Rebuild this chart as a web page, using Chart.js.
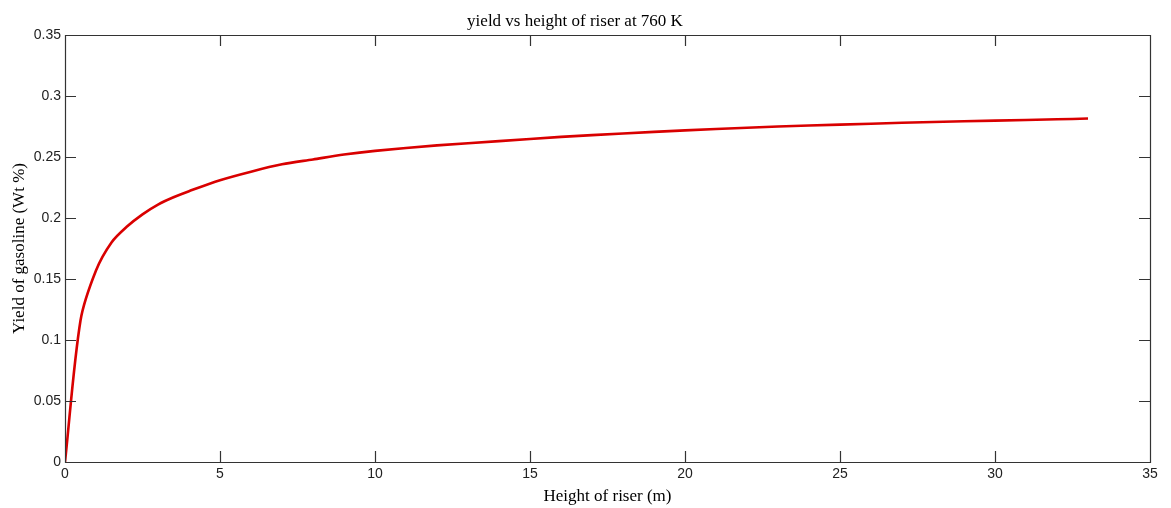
<!DOCTYPE html>
<html>
<head>
<meta charset="utf-8">
<script src="https://cdn.jsdelivr.net/npm/chart.js@4/dist/chart.umd.min.js"></script>
<style>
  html, body { margin: 0; padding: 0; background: #fff; }
  canvas { display: block; }
</style>
</head>
<body>
<canvas id="riserChart" width="1171" height="508"></canvas>
<script>
// riser height (m) and gasoline yield
const heights = [0, 0.5, 1, 1.5, 2, 2.5, 3, 3.5, 4, 5, 6, 7, 8, 9, 10, 12, 14, 16, 18, 20, 22, 24, 26, 28, 30, 32, 33];
const yields = [0, 0.116, 0.157, 0.180, 0.193, 0.203, 0.211, 0.217, 0.222, 0.231, 0.238, 0.244, 0.248, 0.252, 0.255,
  0.2595, 0.263, 0.2665, 0.2693, 0.2718, 0.274, 0.2758, 0.2773, 0.2787, 0.2798, 0.2809, 0.2815];
const xTicks = [0, 5, 10, 15, 20, 25, 30, 35];
const yTicks = [0, 0.05, 0.1, 0.15, 0.2, 0.25, 0.3, 0.35];

const serif = "'Liberation Serif', 'Times New Roman', serif";
const sans = "'Liberation Sans', Arial, sans-serif";

// matlab style box with inward ticks on all four sides
const boxTicks = {
  id: "boxTicks",
  afterDraw(chart) {
    const { ctx, chartArea: a, scales } = chart;
    const len = 11;
    ctx.save();
    ctx.strokeStyle = "#333";
    ctx.lineWidth = 1.2;
    ctx.beginPath();
    ctx.rect(a.left + 0.5, a.top + 0.5, a.right - a.left, a.bottom - a.top);
    xTicks.forEach(v => {
      const x = Math.round(scales.x.getPixelForValue(v)) + 0.5;
      ctx.moveTo(x, a.bottom); ctx.lineTo(x, a.bottom - len);
      ctx.moveTo(x, a.top); ctx.lineTo(x, a.top + len);
    });
    yTicks.forEach(v => {
      const y = Math.round(scales.y.getPixelForValue(v)) + 0.5;
      ctx.moveTo(a.left, y); ctx.lineTo(a.left + len, y);
      ctx.moveTo(a.right, y); ctx.lineTo(a.right - len, y);
    });
    ctx.stroke();
    ctx.restore();
  }
};

new Chart(document.getElementById("riserChart").getContext("2d"), {
  type: "line",
  data: {
    datasets: [{
      data: heights.map((h, i) => ({ x: h, y: yields[i] })),
      borderColor: "#d90000",
      borderWidth: 2.6,
      pointRadius: 0,
      tension: 0.3,
      fill: false
    }]
  },
  options: {
    responsive: false,
    animation: false,
    layout: { padding: { left: 0, right: 21, top: 0, bottom: 0 } },
    plugins: {
      legend: { display: false },
      tooltip: { enabled: false },
      title: {
        display: true,
        text: "yield vs height of riser at 760 K",
        color: "#000",
        font: { family: serif, size: 17, weight: "normal" },
        padding: { top: 11, bottom: 3.6 }
      }
    },
    scales: {
      x: {
        type: "linear",
        min: 0, max: 35,
        afterBuildTicks: s => { s.ticks = xTicks.map(v => ({ value: v })); },
        afterFit: s => { s.height = 46; },
        grid: { display: false, drawTicks: false },
        border: { display: false },
        ticks: { color: "#222", font: { family: sans, size: 14 }, padding: 4, maxRotation: 0 },
        title: {
          display: true,
          text: "Height of riser (m)",
          color: "#000",
          font: { family: serif, size: 17 },
          padding: { top: 0, bottom: 1 }
        }
      },
      y: {
        min: 0, max: 0.35,
        afterBuildTicks: s => { s.ticks = yTicks.map(v => ({ value: v })); },
        afterFit: s => { s.width = 65; },
        grid: { display: false, drawTicks: false },
        border: { display: false },
        ticks: {
          color: "#222",
          font: { family: sans, size: 14 },
          padding: 4,
          callback: v => String(+Number(v).toFixed(2))
        },
        title: {
          display: true,
          text: "Yield of gasoline (Wt %)",
          color: "#000",
          font: { family: serif, size: 17 },
          padding: { top: 9, bottom: 0 }
        }
      }
    }
  },
  plugins: [boxTicks]
});
</script>
</body>
</html>
